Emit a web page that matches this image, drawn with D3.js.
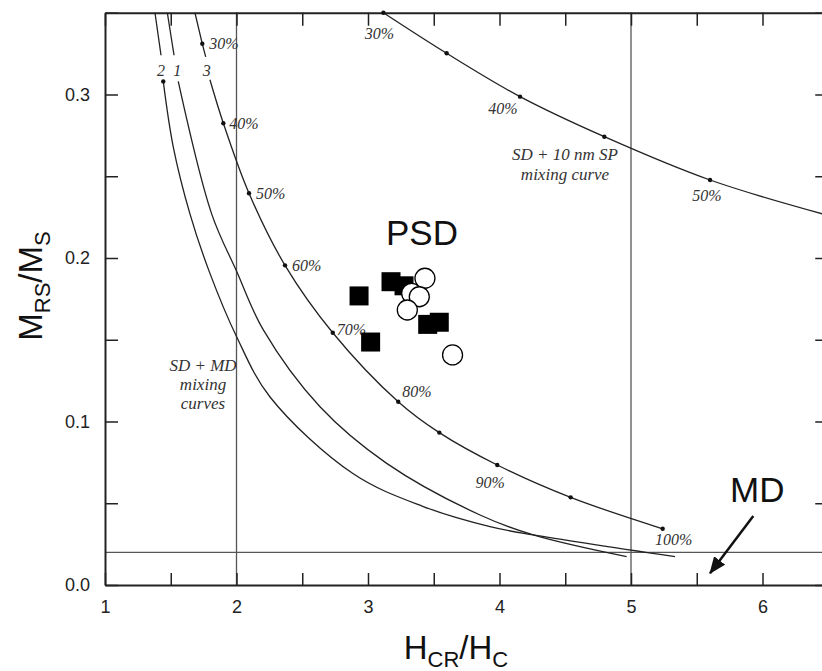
<!DOCTYPE html>
<html>
<head>
<meta charset="utf-8">
<script src="https://cdn.jsdelivr.net/npm/d3@7"></script>
<style>
  body { margin: 0; background: #fff; }
  svg { display: block; }
</style>
</head>
<body>
<svg id="chart"></svg>
<script>
// Axis ticks
const xTickValues = [1, 1.5, 2, 2.5, 3, 3.5, 4, 4.5, 5, 5.5, 6, 6.5];
const yTickValues = [0, 0.05, 0.1, 0.15, 0.2, 0.25, 0.3, 0.35];

// SD + MD mixing curve 3 (with % points)
const mixPct = [30, 40, 50, 60, 70, 80, 85, 90, 95, 100];
const mixX = [1.74, 1.90, 2.095, 2.369, 2.732, 3.230, 3.542, 3.983, 4.541, 5.241];
const mixY = [0.331, 0.2824, 0.2396, 0.1955, 0.1543, 0.1121, 0.0932, 0.0734, 0.0536, 0.0344];
const curve3Top = [[1.684, 0.35], [1.74, 0.331], [1.766, 0.323]];
const curve3Start = [1.798, 0.309];

// SD + MD mixing curves 1 and 2
const curve1Top = [[1.474, 0.35], [1.525, 0.324]];
const curve1 = [[1.557, 0.308], [1.811, 0.227], [2.0, 0.192], [2.204, 0.156], [2.635, 0.109],
                [3.142, 0.0744], [3.852, 0.0428], [4.257, 0.0306], [4.967, 0.0173]];
const curve2Top = [[1.380, 0.35], [1.426, 0.324]];
const curve2 = [[1.443, 0.308], [1.519, 0.268], [1.646, 0.227], [1.798, 0.1906], [2.0, 0.152],
                [2.255, 0.115], [2.888, 0.068], [3.42, 0.048], [3.928, 0.0357],
                [4.257, 0.0306], [5.335, 0.0173]];

// SD + 10 nm SP mixing curve
const spPct = [30, 35, 40, 45, 50];
const spX = [3.117, 3.598, 4.156, 4.797, 5.601];
const spY = [0.35, 0.3252, 0.2987, 0.2742, 0.2477];
const spTail = [6.5, 0.226];

// PSD samples
const squareX = [2.932, 3.175, 3.274, 3.02, 3.454, 3.542];
const squareY = [0.1768, 0.1855, 0.183, 0.1486, 0.1594, 0.1607];
const circleX = [3.332, 3.433, 3.390, 3.299, 3.643];
const circleY = [0.1784, 0.1876, 0.1763, 0.1682, 0.1407];

const width = 822, height = 671;
const svg = d3.select("#chart").attr("width", width).attr("height", height);

const x = d3.scaleLinear().domain([1, 6.5]).range([105, 828.25]);
const y = d3.scaleLinear().domain([0, 0.35]).range([585, 12.75]);

const sans = "'Liberation Sans', Arial, Helvetica, sans-serif";
const serif = "'Liberation Serif', 'Times New Roman', serif";

// reference lines
const ref = svg.append("g").attr("stroke", "#555").attr("stroke-width", 1.3);
[2, 5].forEach(v => ref.append("line")
  .attr("x1", x(v)).attr("x2", x(v)).attr("y1", y(0)).attr("y2", y(0.35)));
ref.append("line").attr("x1", x(1)).attr("x2", x(6.5)).attr("y1", y(0.02)).attr("y2", y(0.02));

// axes (ticks inward)
function styleAxis(g) {
  g.select(".domain").attr("stroke", "#222").attr("stroke-width", 2);
  g.selectAll(".tick line").attr("stroke", "#222").attr("stroke-width", 1.5);
  g.selectAll(".tick text").attr("fill", "#222").style("font-family", sans).style("font-size", "18px");
}
svg.append("g").attr("transform", "translate(0," + y(0) + ")")
  .call(d3.axisBottom(x).tickValues(xTickValues).tickSizeInner(-12).tickSizeOuter(0).tickPadding(15)
    .tickFormat(d => Number.isInteger(d) ? d : ""))
  .call(styleAxis);
svg.append("g").attr("transform", "translate(" + x(1) + ",0)")
  .call(d3.axisLeft(y).tickValues(yTickValues).tickSizeInner(-13).tickSizeOuter(0).tickPadding(15)
    .tickFormat(d => Math.abs(d * 10 - Math.round(d * 10)) < 1e-6 && d < 0.34 ? d3.format(".1f")(d) : ""))
  .call(styleAxis);
svg.append("g").attr("transform", "translate(0," + y(0.35) + ")")
  .call(d3.axisTop(x).tickValues(xTickValues).tickSizeInner(-13).tickSizeOuter(0).tickFormat(""))
  .call(styleAxis);
svg.append("g").attr("transform", "translate(" + x(6.5) + ",0)")
  .call(d3.axisRight(y).tickValues(yTickValues).tickSizeInner(-13).tickSizeOuter(0).tickFormat(""))
  .call(styleAxis);

// curves
const line = d3.line().x(d => x(d[0])).y(d => y(d[1])).curve(d3.curveCatmullRom.alpha(0.5));
const mixPts = mixX.map((v, i) => [v, mixY[i]]);
const spPts = spX.map((v, i) => [v, spY[i]]);
const curves = [curve1Top, curve1, curve2Top, curve2, curve3Top, [curve3Start].concat(mixPts.slice(1)),
                spPts.concat([spTail])];
svg.append("g").selectAll("path").data(curves).join("path")
  .attr("d", line).attr("fill", "none").attr("stroke", "#222").attr("stroke-width", 1.3);

// small dots on curves
const dots = mixPts.concat(spPts).concat([curve2[0]]);
svg.append("g").selectAll("circle").data(dots).join("circle")
  .attr("cx", d => x(d[0])).attr("cy", d => y(d[1])).attr("r", 2.2).attr("fill", "#111");

// percent labels (pixel offsets from the dot)
const italic = g => g.style("font-family", serif).style("font-style", "italic").attr("fill", "#333");
const mixOffsets = {30: [7, 0, "start"], 40: [6, 0, "start"], 50: [7, 0, "start"], 60: [7, 0, "start"],
                    70: [4, -3, "start"], 80: [4, -10, "start"], 90: [-7, 17, "middle"], 100: [11, 11, "middle"]};
const pctLabels = svg.append("g").call(italic).style("font-size", "16px");
mixPct.forEach((p, i) => {
  const o = mixOffsets[p];
  if (!o) return;
  pctLabels.append("text").attr("x", x(mixX[i]) + o[0]).attr("y", y(mixY[i]) + o[1])
    .attr("dy", "0.35em").attr("text-anchor", o[2]).text(p + "%");
});
const spOffsets = {30: [-4, 21], 40: [-17, 12], 50: [-3, 15]};
spPct.forEach((p, i) => {
  const o = spOffsets[p];
  if (!o) return;
  pctLabels.append("text").attr("x", x(spX[i]) + o[0]).attr("y", y(spY[i]) + o[1])
    .attr("dy", "0.35em").attr("text-anchor", "middle").text(p + "%");
});

// curve numbers
const curveNames = [["2", 1.425], ["1", 1.549], ["3", 1.774]];
pctLabels.selectAll(".cname").data(curveNames).join("text").attr("class", "cname")
  .attr("x", d => x(d[1])).attr("y", y(0.315)).attr("dy", "0.35em")
  .attr("text-anchor", "middle").text(d => d[0]);

// annotation text
const notes = svg.append("g").call(italic).style("font-size", "17px").attr("text-anchor", "middle");
[["SD + 10 nm SP", 154], ["mixing curve", 174]].forEach(d =>
  notes.append("text").attr("x", 565).attr("y", d[1]).attr("dy", "0.35em").text(d[0]));
[["SD + MD", 365], ["mixing", 384], ["curves", 403]].forEach(d =>
  notes.append("text").attr("x", 203).attr("y", d[1]).attr("dy", "0.35em").text(d[0]));

// PSD samples
const sq = 19;
svg.append("g").selectAll("rect").data(squareX).join("rect")
  .attr("x", (d, i) => x(d) - sq / 2).attr("y", (d, i) => y(squareY[i]) - sq / 2)
  .attr("width", sq).attr("height", sq).attr("fill", "#000");
svg.append("g").selectAll("circle").data(circleX).join("circle")
  .attr("cx", d => x(d)).attr("cy", (d, i) => y(circleY[i])).attr("r", 10)
  .attr("fill", "#fff").attr("stroke", "#000").attr("stroke-width", 1.3);

// big labels
svg.append("text").attr("x", 386).attr("y", 245).style("font-family", sans).style("font-size", "35px")
  .attr("fill", "#111").text("PSD");
svg.append("text").attr("x", 730).attr("y", 502).style("font-family", sans).style("font-size", "35px")
  .attr("fill", "#111").text("MD");

// arrow to MD line
svg.append("defs").append("marker").attr("id", "arrow")
  .attr("markerUnits", "userSpaceOnUse").attr("markerWidth", 17).attr("markerHeight", 14)
  .attr("refX", 16).attr("refY", 7).attr("orient", "auto")
  .append("path").attr("d", "M0,0 L17,7 L0,14 Z").attr("fill", "#111");
svg.append("line").attr("x1", x(5.93)).attr("y1", y(0.0422)).attr("x2", x(5.601)).attr("y2", y(0.0072))
  .attr("stroke", "#111").attr("stroke-width", 2.5).attr("marker-end", "url(#arrow)");

// axis titles
const xt = svg.append("text").attr("x", 456).attr("y", 659).attr("text-anchor", "middle")
  .style("font-family", sans).style("font-size", "33px").attr("fill", "#111");
xt.append("tspan").text("H");
xt.append("tspan").attr("dy", 8).style("font-size", "22px").text("CR");
xt.append("tspan").attr("dy", -8).text("/H");
xt.append("tspan").attr("dy", 8).style("font-size", "22px").text("C");

const yt = svg.append("text").attr("transform", "translate(42,286) rotate(-90)").attr("text-anchor", "middle")
  .style("font-family", sans).style("font-size", "33px").attr("fill", "#111");
yt.append("tspan").text("M");
yt.append("tspan").attr("dy", 8).style("font-size", "22px").text("RS");
yt.append("tspan").attr("dy", -8).text("/M");
yt.append("tspan").attr("dy", 8).style("font-size", "22px").text("S");
</script>
</body>
</html>
